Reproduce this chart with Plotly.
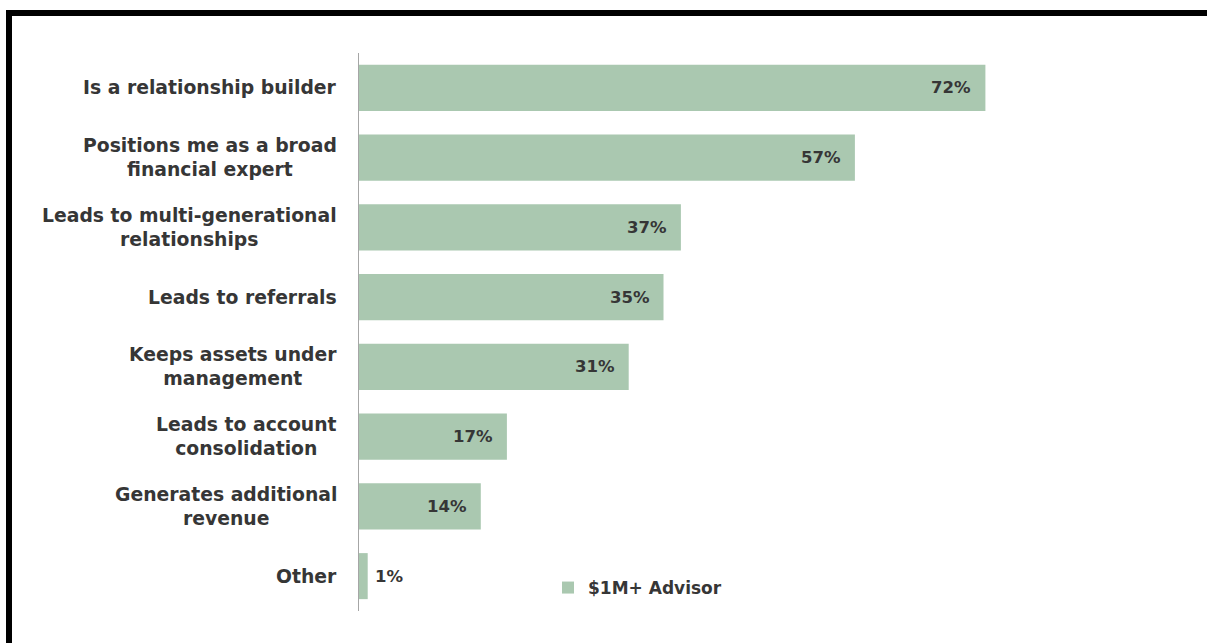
import plotly.graph_objects as go

# Survey responses: share of $1M+ advisors citing each benefit
categories = [
    "Is a relationship builder",
    "Positions me as a broad financial expert",
    "Leads to multi-generational relationships",
    "Leads to referrals",
    "Keeps assets under management",
    "Leads to account consolidation",
    "Generates additional revenue",
    "Other",
]
label_lines = [
    "Is a relationship builder",
    "Positions me as a broad<br>financial expert",
    "Leads to multi-generational<br>relationships",
    "Leads to referrals",
    "Keeps assets under<br>management",
    "Leads to account<br>consolidation",
    "Generates additional<br>revenue",
    "Other",
]
values = [72, 57, 37, 35, 31, 17, 14, 1]
series_name = "$1M+ Advisor"

BAR_COLOR = "#aac8b0"
TEXT_COLOR = "#363636"
FONT = "DejaVu Sans"

W, H = 1207, 643
M_L, M_R, M_T, M_B = 359, 152, 53, 32

fig = go.Figure(
    go.Bar(
        x=values,
        y=categories,
        orientation="h",
        marker=dict(color=BAR_COLOR, line=dict(width=0)),
        name=series_name,
        showlegend=True,
        hoverinfo="skip",
    )
)

annotations = []
# category labels, centred line by line, to the left of the axis
for cat, lab in zip(categories, label_lines):
    annotations.append(dict(
        x=0, xref="paper", y=cat, yref="y",
        text=lab, showarrow=False, xanchor="right", yanchor="middle",
        align="center", xshift=-20,
        font=dict(family=FONT, size=18.8, color=TEXT_COLOR, weight="bold"),
    ))

# value labels: inside the bar end, or just outside for very short bars
for cat, v in zip(categories, values):
    inside = v >= 5
    annotations.append(dict(
        x=v, xref="x", y=cat, yref="y",
        text=f"{v}%", showarrow=False,
        xanchor="right" if inside else "left",
        yanchor="middle",
        xshift=-12 if inside else 5,
        font=dict(family=FONT, size=16.5, color=TEXT_COLOR, weight="bold"),
    ))

# frame along the top and left edges
plot_w = W - M_L - M_R
plot_h = H - M_T - M_B
def px_to_paper_x(px):
    return (px - M_L) / plot_w
def px_to_paper_y(py):
    return (H - M_B - py) / plot_h

shapes = [dict(
    type="rect", xref="paper", yref="paper",
    x0=px_to_paper_x(9), x1=px_to_paper_x(W + 20),
    y0=px_to_paper_y(H + 20), y1=px_to_paper_y(13),
    line=dict(color="black", width=6), fillcolor="rgba(0,0,0,0)",
    layer="above",
)]

fig.update_layout(
    width=W, height=H,
    margin=dict(l=M_L, r=M_R, t=M_T, b=M_B),
    paper_bgcolor="white", plot_bgcolor="white",
    bargap=0.34,
    font=dict(family=FONT, color=TEXT_COLOR),
    xaxis=dict(range=[0, 80], visible=False, fixedrange=True),
    yaxis=dict(
        categoryorder="array", categoryarray=categories,
        autorange="reversed",
        showticklabels=False, ticks="",
        showgrid=False, zeroline=False,
        showline=True, linecolor="#a6a6a6", linewidth=1,
    ),
    legend=dict(
        x=px_to_paper_x(548), y=px_to_paper_y(588),
        xanchor="left", yanchor="middle",
        font=dict(family=FONT, size=17, color=TEXT_COLOR, weight="bold"),
        itemwidth=30, bgcolor="rgba(0,0,0,0)",
    ),
    annotations=annotations,
    shapes=shapes,
)

fig.write_html("out.html")
